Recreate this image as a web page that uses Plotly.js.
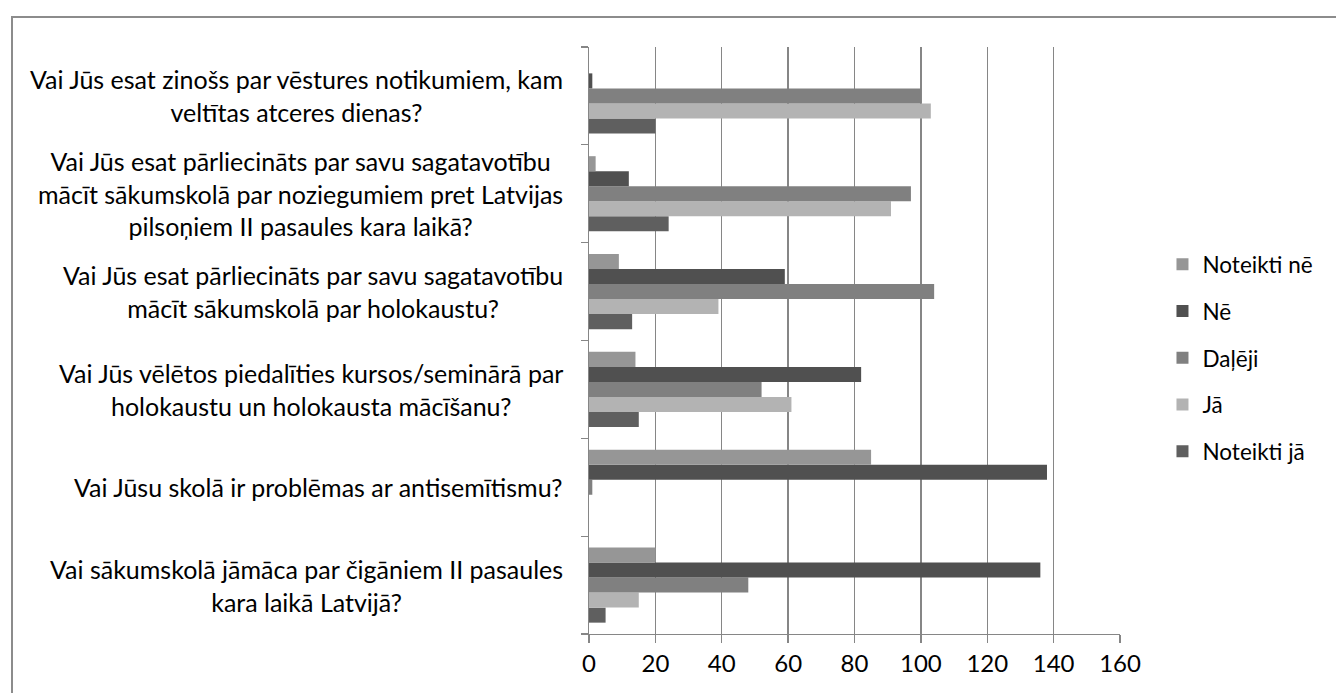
<!DOCTYPE html>
<html>
<head>
<meta charset="utf-8">
<script src="https://cdn.plot.ly/plotly-3.0.1.min.js"></script>
<style>
html,body{margin:0;padding:0;background:#fff;}
#wrap{position:relative;width:1336px;height:693px;overflow:hidden;}
#chart{position:absolute;left:0;top:0;width:1336px;height:693px;}
#frame{position:absolute;left:11px;top:16px;width:1400px;height:800px;border:2px solid #8c8c8c;box-sizing:border-box;pointer-events:none;}
</style>
</head>
<body>
<div id="wrap"><div id="chart"></div><div id="frame"></div></div>
<script>
// Categories, top to bottom as they appear in the chart
var categories = [
  "Vai Jūs esat zinošs par vēstures notikumiem, kam<br>veltītas atceres dienas?",
  "Vai Jūs esat pārliecināts par savu sagatavotību<br>mācīt sākumskolā par noziegumiem pret Latvijas<br>pilsoņiem II pasaules kara laikā?",
  "Vai Jūs esat pārliecināts par savu sagatavotību<br>mācīt sākumskolā par holokaustu?",
  "Vai Jūs vēlētos piedalīties kursos/seminārā par<br>holokaustu un holokausta mācīšanu?",
  "Vai Jūsu skolā ir problēmas ar antisemītismu?",
  "Vai sākumskolā jāmāca par čigāniem II pasaules<br>kara laikā Latvijā?"
];
var seriesNames = ["Noteikti nē", "Nē", "Daļēji", "Jā", "Noteikti jā"];
var noteiktiNe = [0, 2, 9, 14, 85, 20];
var ne         = [1, 12, 59, 82, 138, 136];
var daleji     = [100, 97, 104, 52, 1, 48];
var ja         = [103, 91, 39, 61, 0, 15];
var noteiktiJa = [20, 24, 13, 15, 0, 5];
var xTicks = [0, 20, 40, 60, 80, 100, 120, 140, 160];

var colors = {"Noteikti nē":"#969696","Nē":"#505050","Daļēji":"#808080","Jā":"#b3b3b3","Noteikti jā":"#5f5f5f"};
var valuesBy = {"Noteikti nē":noteiktiNe,"Nē":ne,"Daļēji":daleji,"Jā":ja,"Noteikti jā":noteiktiJa};

var FONT = "Lato, 'Open Sans', sans-serif";
var yCats = categories.slice().reverse();

// bottom-most bar in each group first
var order = seriesNames.slice().reverse();
var traces = order.map(function(name){
  return {
    type:'bar', orientation:'h', name:name, legendgroup:name,
    legendrank: seriesNames.indexOf(name) + 1,
    y: yCats, x: valuesBy[name].slice().reverse(),
    marker:{color:colors[name], line:{width:0}},
    hoverinfo:'x+name'
  };
});

var annotations = categories.map(function(c){
  return {xref:'paper', yref:'y', x:0, y:c, xanchor:'right', yanchor:'middle',
    xshift:-24, text:c, align:'center', showarrow:false,
    font:{family:FONT, size:25, color:'#000'}};
});

var layout = {
  width:1336, height:693,
  margin:{l:589, r:216, t:47, b:59, pad:0, autoexpand:false},
  paper_bgcolor:'#fff', plot_bgcolor:'#fff',
  barmode:'group', bargap:0.232, bargroupgap:0,
  showlegend:true,
  legend:{x:1.08, xanchor:'left', y:0.47, yanchor:'middle',
    traceorder:'grouped', tracegroupgap:14.5,
    font:{family:FONT, size:22.5, color:'#000'}, itemwidth:30},
  xaxis:{range:[0,160], tickvals:xTicks, ticktext:xTicks.map(String),
    showgrid:true, gridcolor:'#868686', gridwidth:1.3,
    showline:true, linecolor:'#868686', linewidth:1.3,
    ticks:'outside', ticklen:8, tickcolor:'#868686', tickwidth:1.3,
    zeroline:false, tickfont:{family:FONT, size:24, color:'#000'}, fixedrange:true},
  yaxis:{type:'category', categoryorder:'array', categoryarray:yCats,
    showticklabels:false, showgrid:false, zeroline:false,
    showline:true, linecolor:'#868686', linewidth:1.3,
    ticks:'outside', ticklen:7, tickcolor:'#868686', tickwidth:1.3,
    tickson:'boundaries', fixedrange:true},
  annotations:annotations
};

Plotly.newPlot('chart', traces, layout, {displayModeBar:false, staticPlot:true});
</script>
</body>
</html>
